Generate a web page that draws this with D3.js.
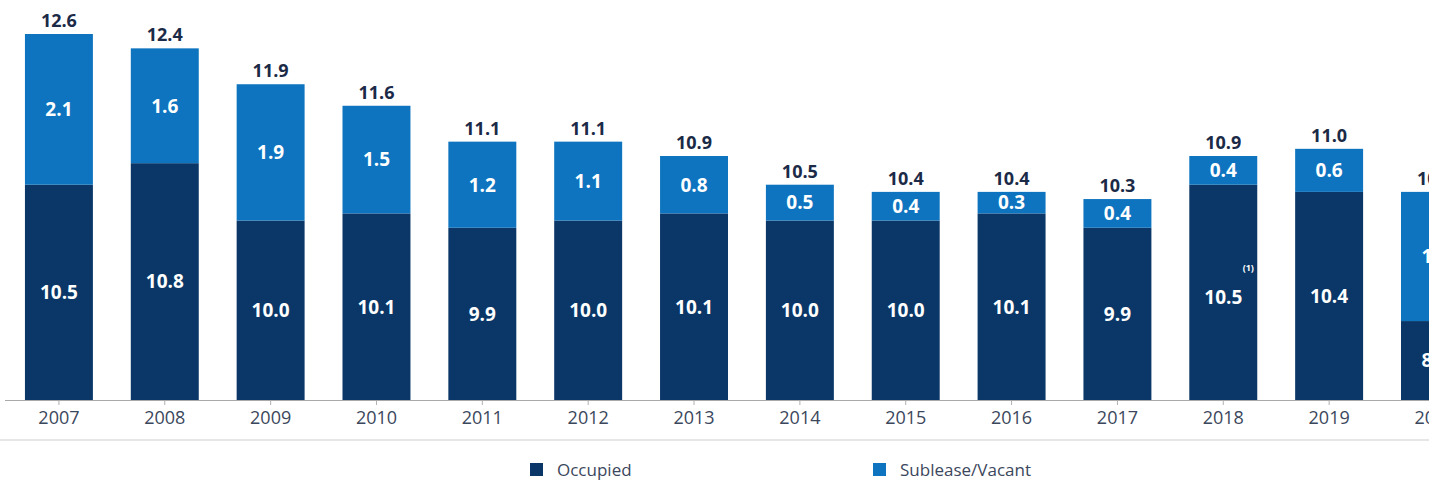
<!DOCTYPE html>
<html>
<head>
<meta charset="utf-8">
<script src="https://cdn.jsdelivr.net/npm/d3@7"></script>
<style>
  html, body { margin: 0; padding: 0; background: #fff; overflow: hidden; }
  svg { display: block; }
</style>
</head>
<body>
<svg id="chart" width="1429" height="487"></svg>
<script>
const years     = ["2007","2008","2009","2010","2011","2012","2013","2014","2015","2016","2017","2018","2019","2020"];
const occupied  = [10.5, 10.8, 10.0, 10.1, 9.9, 10.0, 10.1, 10.0, 10.0, 10.1, 9.9, 10.5, 10.4, 8.6];
const sublease  = [2.1, 1.6, 1.9, 1.5, 1.2, 1.1, 0.8, 0.5, 0.4, 0.3, 0.4, 0.4, 0.6, 1.8];
const totals    = [12.6, 12.4, 11.9, 11.6, 11.1, 11.1, 10.9, 10.5, 10.4, 10.4, 10.3, 10.9, 11.0, 10.4];
const seriesNames = ["Occupied", "Sublease/Vacant"];
const footnotes = {"2018": "(1)"};

const colors = { occ: "#0a3767", sub: "#0e74bf" };
const fontNum = "'Open Sans', 'DejaVu Sans', sans-serif";

const svg = d3.select("#chart");
const W = 1429;
const baseY = 400;

const x = d3.scaleBand().domain(years).range([6, 6 + 14 * 105.85]).paddingInner(0.358).paddingOuter(0.179);
const y = d3.scaleLinear().domain([7.5, 12.6]).range([baseY, 34]);

const data = years.map((yr, i) => ({ yr, occ: occupied[i], sub: sublease[i], tot: totals[i] }));

const g = svg.append("g");

// occupied bars
g.selectAll("rect.occ").data(data).join("rect")
  .attr("class", "occ")
  .attr("x", d => x(d.yr)).attr("width", x.bandwidth())
  .attr("y", d => y(d.occ)).attr("height", d => baseY - y(d.occ))
  .attr("fill", colors.occ);

// sublease bars
g.selectAll("rect.sub").data(data).join("rect")
  .attr("class", "sub")
  .attr("x", d => x(d.yr)).attr("width", x.bandwidth())
  .attr("y", d => y(d.occ + d.sub)).attr("height", d => y(d.occ) - y(d.occ + d.sub))
  .attr("fill", colors.sub);

// axis
const axis = d3.axisBottom(x).tickSize(5).tickPadding(6);
const ax = svg.append("g").attr("transform", `translate(0,${baseY})`).call(axis);
ax.select(".domain").remove();
ax.append("line").attr("x1", 5).attr("x2", W).attr("y1", 0.5).attr("y2", 0.5).attr("stroke", "#a9a9a9").attr("stroke-width", 1.2);
ax.selectAll(".tick line").attr("stroke", "#b0b0b0");
ax.selectAll(".tick text")
  .attr("fill", "#3b475c")
  .style("font-family", fontNum)
  .style("font-size", "18px");

// separator line
svg.append("line").attr("x1", 0).attr("x2", W).attr("y1", 440).attr("y2", 440)
  .attr("stroke", "#e6e6e6").attr("stroke-width", 2);

// total labels
g.selectAll("text.tot").data(data).join("text")
  .attr("class", "tot")
  .attr("x", d => x(d.yr) + x.bandwidth() / 2)
  .attr("y", d => y(d.tot) - 7)
  .attr("text-anchor", "middle")
  .attr("fill", "#1b2a47")
  .style("font-family", fontNum).style("font-weight", 700).style("font-size", "18px")
  .text(d => d.tot.toFixed(1));

// sublease labels
g.selectAll("text.subl").data(data).join("text")
  .attr("class", "subl")
  .attr("x", d => x(d.yr) + x.bandwidth() / 2)
  .attr("y", d => (y(d.occ) + y(d.occ + d.sub)) / 2)
  .attr("dy", "0.36em")
  .attr("text-anchor", "middle")
  .attr("fill", "#fff")
  .style("font-family", fontNum).style("font-weight", 700).style("font-size", "19px")
  .text(d => d.sub.toFixed(1));

// occupied labels
g.selectAll("text.occl").data(data).join("text")
  .attr("class", "occl")
  .attr("x", d => x(d.yr) + x.bandwidth() / 2)
  .attr("y", d => (baseY + y(d.occ)) / 2 + (d.yr === "2018" ? 5 : 0))
  .attr("dy", "0.36em")
  .attr("text-anchor", "middle")
  .attr("fill", "#fff")
  .style("font-family", fontNum).style("font-weight", 700).style("font-size", "19px")
  .text(d => d.occ.toFixed(1));

// footnote marker
Object.keys(footnotes).forEach(yr => {
  const d = data.find(e => e.yr === yr);
  g.append("text")
    .attr("x", x(yr) + x.bandwidth() / 2 + 25)
    .attr("y", (baseY + y(d.occ)) / 2 - 21)
    .attr("text-anchor", "middle")
    .attr("fill", "#fff")
    .style("font-family", fontNum).style("font-weight", 700).style("font-size", "9px")
    .text(footnotes[yr]);
});

// legend
const legendItems = [
  { name: seriesNames[0], color: colors.occ, x: 530 },
  { name: seriesNames[1], color: colors.sub, x: 873 }
];
const lg = svg.selectAll("g.legend").data(legendItems).join("g")
  .attr("class", "legend")
  .attr("transform", d => `translate(${d.x},463)`);
lg.append("rect").attr("width", 13).attr("height", 13).attr("fill", d => d.color);
lg.append("text").attr("x", 27).attr("y", 6.5).attr("dy", "0.36em")
  .attr("fill", "#3b475c")
  .style("font-family", fontNum).style("font-size", "17px")
  .text(d => d.name);
</script>
</body>
</html>
